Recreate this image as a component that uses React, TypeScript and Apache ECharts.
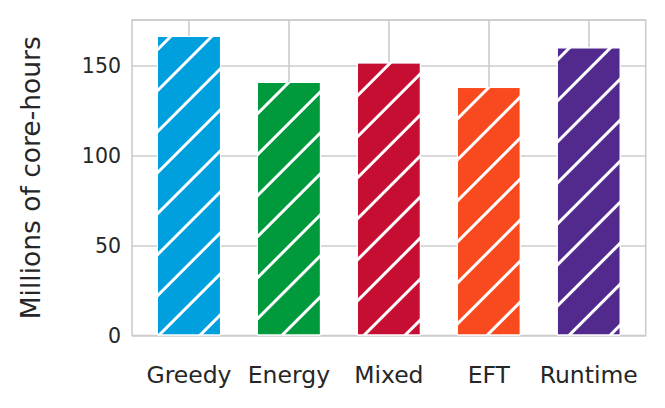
import React, { useEffect, useRef } from "react";
import * as echarts from "echarts";

const categories = ["Greedy", "Energy", "Mixed", "EFT", "Runtime"];
const coreHours = [166.7, 141.1, 152.0, 138.3, 160.4];
const barColors = ["#00A0DF", "#009A3D", "#C60D32", "#F94A1F", "#522A8E"];
const yTicks = [0, 50, 100, 150];
const yMax = 175.6;
const yLabel = "Millions of core-hours";

export default function App() {
  const ref = useRef<HTMLDivElement>(null);
  useEffect(() => {
    if (!ref.current) return;
    const chart = echarts.init(ref.current, null, { renderer: "svg" });
    const font = "DejaVu Sans";
    const top = 20;
    const height = 315.5;
    const hiddenY = (gridIndex: number) => ({
      type: "value" as const,
      gridIndex,
      min: 0,
      max: yMax,
      show: false,
    });
    chart.setOption({
      animation: false,
      backgroundColor: "#ffffff",
      grid: [
        { left: 132, top, width: 513.7, height, show: true, borderColor: "#cccccc", borderWidth: 1.6, backgroundColor: "transparent" },
        { left: 139, top, width: 499.7, height },
        { left: 189, top, width: 399.7, height },
      ],
      xAxis: [
        { type: "value", gridIndex: 0, show: false, min: 0, max: 1 },
        {
          type: "category",
          gridIndex: 1,
          data: categories,
          axisLine: { show: false },
          axisTick: { show: false },
          splitLine: { show: false },
          axisLabel: { color: "#262626", fontFamily: font, fontSize: 23.5, margin: 27, interval: 0 },
        },
        {
          type: "category",
          gridIndex: 2,
          data: categories,
          boundaryGap: false,
          axisLine: { show: false },
          axisTick: { show: false },
          axisLabel: { show: false },
          splitLine: { show: true, lineStyle: { color: "#cccccc", width: 1.6 } },
        },
      ],
      yAxis: [
        {
          type: "value",
          gridIndex: 0,
          min: 0,
          max: yMax,
          interval: 50,
          axisLine: { show: false },
          axisTick: { show: false },
          splitLine: { show: true, lineStyle: { color: "#cccccc", width: 1.6 } },
          axisLabel: {
            color: "#262626",
            fontFamily: font,
            fontSize: 20.5,
            margin: 11,
            formatter: (v: number) => (yTicks.includes(v) ? String(v) : ""),
            showMaxLabel: false,
          },
          name: yLabel,
          nameLocation: "middle",
          nameGap: 88,
          nameTextStyle: { color: "#262626", fontFamily: font, fontSize: 26.5 },
        },
        hiddenY(1),
        hiddenY(2),
      ],
      series: [
        {
          type: "bar",
          xAxisIndex: 1,
          yAxisIndex: 1,
          barWidth: 64,
          data: coreHours.map((v, i) => ({
            value: v,
            itemStyle: {
              color: barColors[i],
              borderColor: "#ffffff",
              borderWidth: 1,
              decal: {
                symbol: "rect",
                symbolSize: 1,
                color: "#ffffff",
                dashArrayX: [1, 0],
                dashArrayY: [2.5, 25.5],
                rotation: -Math.PI / 4,
              },
            },
          })),
        },
      ],
    });
    return () => chart.dispose();
  }, []);
  return <div ref={ref} style={{ width: 665, height: 408, position: "absolute", left: 0, top: 0 }} />;
}
